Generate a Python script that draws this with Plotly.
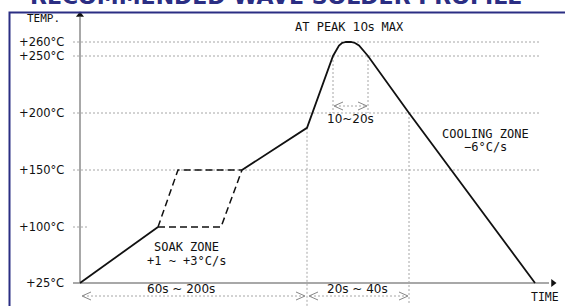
import numpy as np
import plotly.graph_objects as go

# ---------------- data ----------------
TITLE = "RECOMMENDED WAVE SOLDER PROFILE"
TICK_TEMPS = [25, 100, 150, 200, 250, 260]
TICK_LABELS = ["+25°C", "+100°C", "+150°C", "+200°C", "+250°C", "+260°C"]

# schematic time units (not to scale)
ramp_time = [0, 78]
ramp_temp = [25, 100]

soak_fast_time = [78, 98, 162]
soak_fast_temp = [100, 150, 150]
soak_slow_time = [78, 141, 162]
soak_slow_temp = [100, 100, 150]

reflow_time = [162, 227, 253, 256, 259, 262, 266, 271, 275, 279, 283, 288, 329, 455]
reflow_temp = [150, 187, 250, 254, 257.5, 259.3, 260, 260, 259.3, 257.5, 254.5, 250, 200, 25]

# key instants
T_SOAK_END = 227
T_PEAK_IN = 253
T_PEAK_OUT = 288
T_COOL_200 = 329
T_END = 455

# ---------------- schematic (non-linear) temperature scale ----------------
AXIS_LEVELS = [0, 56, 113, 170, 227, 241]


def lv(temp):
    return np.interp(temp, TICK_TEMPS, AXIS_LEVELS)


BLACK = "#111111"
GRID = "#a6a6a6"
AXIS = "#a8a8a8"
NAVY = "#2b2e83"
MONO = "DejaVu Sans Mono"
SANS = "DejaVu Sans"

fig = go.Figure()

# solid profile
fig.add_trace(go.Scatter(x=ramp_time, y=lv(ramp_temp), mode="lines",
                         line=dict(color=BLACK, width=1.8), hoverinfo="skip"))
fig.add_trace(go.Scatter(x=reflow_time, y=lv(reflow_temp), mode="lines",
                         line=dict(color=BLACK, width=1.8), hoverinfo="skip"))
# dashed soak envelope
for tx, ty in [(soak_fast_time, soak_fast_temp), (soak_slow_time, soak_slow_temp)]:
    fig.add_trace(go.Scatter(x=tx, y=lv(ty), mode="lines",
                             line=dict(color=BLACK, width=1.5, dash="7px,4px"),
                             hoverinfo="skip"))

shapes = []
X_LEFT = -7
X_RIGHT = 461
# horizontal dotted guides
for t in TICK_TEMPS[1:]:
    x1 = 7 if t == 100 else X_RIGHT
    shapes.append(dict(type="line", xref="x", yref="y", x0=X_LEFT, x1=x1,
                       y0=lv(t), y1=lv(t), line=dict(color=GRID, width=1, dash="2px,2px"), layer="below"))
# vertical dotted guides
shapes.append(dict(type="line", xref="x", yref="y", x0=T_SOAK_END, x1=T_SOAK_END,
                   y0=lv(187), y1=-23, line=dict(color=GRID, width=1, dash="2px,2px"), layer="below"))
shapes.append(dict(type="line", xref="x", yref="y", x0=T_COOL_200, x1=T_COOL_200,
                   y0=lv(200), y1=-20, line=dict(color=GRID, width=1, dash="2px,2px"), layer="below"))
for tv in (T_PEAK_IN, T_PEAK_OUT):
    shapes.append(dict(type="line", xref="x", yref="y", x0=tv, x1=tv,
                       y0=lv(250), y1=lv(200), line=dict(color=GRID, width=1, dash="2px,2px"), layer="below"))

# axes
shapes.append(dict(type="line", xref="x", yref="y", x0=0, x1=0, y0=0, y1=266,
                   line=dict(color=AXIS, width=2), layer="below"))
shapes.append(dict(type="line", xref="x", yref="y", x0=X_LEFT, x1=469, y0=0, y1=0,
                   line=dict(color=AXIS, width=2), layer="below"))


def bracket(xa, xb, y, h=4, w=9):
    # dotted span line with open chevrons
    out = [dict(type="line", xref="x", yref="y", x0=xa + 1, x1=xb - 1, y0=y, y1=y,
                line=dict(color=GRID, width=1, dash="2px,2px"))]
    out.append(dict(type="path", xref="x", yref="y",
                    path=f"M {xa + w},{y + h} L {xa},{y} L {xa + w},{y - h}",
                    line=dict(color="#888888", width=1)))
    out.append(dict(type="path", xref="x", yref="y",
                    path=f"M {xb - w},{y + h} L {xb},{y} L {xb - w},{y - h}",
                    line=dict(color="#888888", width=1)))
    return out


shapes += bracket(2, T_SOAK_END - 2, -13)
shapes += bracket(T_SOAK_END + 2, T_COOL_200 - 1, -13)
shapes += bracket(T_PEAK_IN + 1, T_PEAK_OUT - 1, 177)

# frame
shapes.append(dict(type="rect", xref="paper", yref="paper",
                   x0=9.5 / 565, x1=1.05, y0=-0.1, y1=1 - 12.5 / 306,
                   line=dict(color=NAVY, width=2)))

# arrow heads
fig.add_trace(go.Scatter(x=[0], y=[268], mode="markers",
                         marker=dict(symbol="triangle-up", size=7, color=BLACK),
                         hoverinfo="skip"))
fig.add_trace(go.Scatter(x=[473], y=[0], mode="markers",
                         marker=dict(symbol="triangle-right", size=7, color=BLACK),
                         hoverinfo="skip"))

ann = []
for t, lab in zip(TICK_TEMPS, TICK_LABELS):
    ann.append(dict(x=-14, y=lv(t), xref="x", yref="y", text=lab, showarrow=False,
                    xanchor="right", yanchor="middle",
                    font=dict(family=SANS, size=11.5, color=BLACK)))


def txt(x, y, s, size=12, fam=MONO, xa="center"):
    ann.append(dict(x=x, y=y, xref="x", yref="y", text=s, showarrow=False,
                    xanchor=xa, yanchor="middle", font=dict(family=fam, size=size, color=BLACK)))


txt(-55, 265, "TEMP.", size=11, xa="left")
txt(465, -14, "TIME", size=11.5)
txt(269, 256, "AT PEAK <span style='font-family:DejaVu Sans'>10s</span> MAX", size=12)
txt(106, 36, "SOAK ZONE", size=12)
txt(106, 22, "+1 ~ +3°C/s", size=12)
txt(405, 149, "COOLING ZONE", size=12)
txt(405, 136, "−6°C/s", size=12)
txt(270, 164, "10~20s", size=12, fam=SANS)
txt(101, -6, "60s ~ 200s", size=12, fam=SANS)
txt(277, -6, "20s ~ 40s", size=12, fam=SANS)

# title (mostly cut off at the top, as in the reference)
ann.append(dict(x=276 / 565, y=1 + 4 / 306, xref="paper", yref="paper", text=f"<b>{TITLE}</b>",
                showarrow=False, xanchor="center", yanchor="middle",
                font=dict(family="DejaVu Sans", size=22, color=NAVY)))

fig.update_layout(
    width=565, height=306,
    margin=dict(l=0, r=0, t=0, b=0),
    paper_bgcolor="white", plot_bgcolor="white",
    showlegend=False,
    shapes=shapes, annotations=ann,
    xaxis=dict(range=[-80, 485], visible=False, fixedrange=True),
    yaxis=dict(range=[-23, 283], visible=False, fixedrange=True),
)

fig.write_html("out.html", config={"displayModeBar": False},
               post_script="document.body.style.margin='0';document.body.style.overflow='hidden';")
